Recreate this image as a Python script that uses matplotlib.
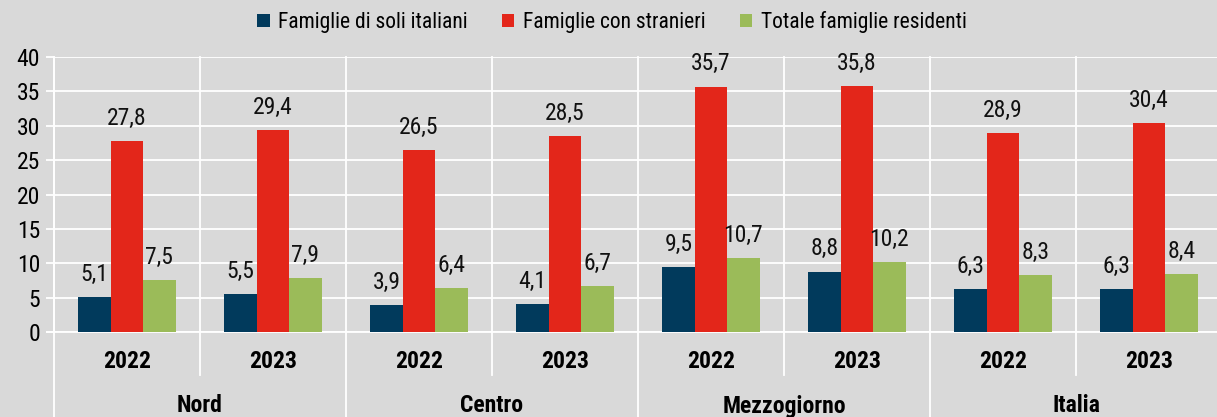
import matplotlib
matplotlib.use("Agg")
import matplotlib.pyplot as plt
from matplotlib.patches import Patch
from matplotlib import font_manager
import numpy as np

regions = ["Nord", "Centro", "Mezzogiorno", "Italia"]
years = ["2022", "2023"]
series_names = ["Famiglie di soli italiani", "Famiglie con stranieri", "Totale famiglie residenti"]
soli_italiani = [5.1, 5.5, 3.9, 4.1, 9.5, 8.8, 6.3, 6.3]
con_stranieri = [27.8, 29.4, 26.5, 28.5, 35.7, 35.8, 28.9, 30.4]
totale = [7.5, 7.9, 6.4, 6.7, 10.7, 10.2, 8.3, 8.4]
y_ticks = [0, 5, 10, 15, 20, 25, 30, 35, 40]

colors = ["#013A5C", "#E3261A", "#9BBB59"]
bg = "#D9D9D9"


def weight_num(w):
    if isinstance(w, (int, float)):
        return w
    return font_manager.weight_dict.get(w, 400)


fams = {}
for f in font_manager.fontManager.ttflist:
    if f.style != "normal":
        continue
    fams.setdefault(f.name, set()).add(weight_num(f.weight))

narrow = None
for cand in ["Liberation Sans Narrow", "Arial Narrow", "Roboto Condensed", "Archivo Narrow",
             "PT Sans Narrow", "Fira Sans Condensed", "IBM Plex Sans Condensed",
             "Encode Sans Condensed", "Asap Condensed"]:
    ws = fams.get(cand, set())
    if any(w <= 450 for w in ws) and any(w >= 650 for w in ws):
        narrow = cand
        break

if narrow is not None:
    plt.rcParams["font.family"] = [narrow, "DejaVu Sans"]
    FS = 17
    LFS = 15.5
else:
    plt.rcParams["font.family"] = ["Liberation Sans", "DejaVu Sans"]
    FS = 14
    LFS = 14

fig = plt.figure(figsize=(12.17, 4.17), dpi=100, facecolor=bg)
W, H = 1217, 417
x0, x1, ytop, ybot = 54, 54 + 1168, 57, 332
ax = fig.add_axes([x0 / W, 1 - ybot / H, (x1 - x0) / W, (ybot - ytop) / H])
ax.set_facecolor(bg)

n = len(soli_italiani)
centers = np.arange(n) + 0.5
bw = 0.222
data = [soli_italiani, con_stranieri, totale]
for i, (vals, c) in enumerate(zip(data, colors)):
    xs = centers + (i - 1) * bw
    ax.bar(xs, vals, width=bw, color=c, zorder=3)
    for x, v in zip(xs, vals):
        ax.annotate(f"{v:.1f}".replace(".", ","), (x, v), xytext=(0, 8),
                    textcoords="offset points", ha="center", va="bottom",
                    fontsize=FS, color="#111111")

ax.set_xlim(0, n)
ax.set_ylim(0, 40)
ax.set_yticks(y_ticks)
ax.set_yticklabels([str(t) for t in y_ticks], fontsize=FS)
ax.tick_params(axis="y", length=6, width=1.3, color="white", pad=4)
ax.set_xticks([])
ax.yaxis.grid(True, color="white", lw=1.3, zorder=1)
for s in ["top", "right", "bottom"]:
    ax.spines[s].set_visible(False)
ax.spines["left"].set_color("white")
ax.spines["left"].set_linewidth(1.3)
ax.spines["left"].set_zorder(2)

ax.plot([-7 / 146, n], [0, 0], color="white", lw=1.3, clip_on=False, zorder=2)

xt = ax.get_xaxis_transform()
yr_low = (ybot - 375) / (ybot - ytop)
fig_low = (ybot - H) / (ybot - ytop)
for k in range(n + 1):
    if k % 2 == 0:
        ax.plot([k, k], [1, fig_low], color="white", lw=1.3, transform=xt, clip_on=False, zorder=1)
    else:
        ax.plot([k, k], [1, yr_low], color="white", lw=1.3, transform=xt, clip_on=False, zorder=1)

yl_year = (ybot - 361) / (ybot - ytop)
yl_reg = (ybot - 406) / (ybot - ytop)
for k in range(n):
    ax.text(k + 0.5, yl_year, years[k % 2], transform=xt, ha="center", va="center",
            fontsize=FS, fontweight="bold")
for j, r in enumerate(regions):
    ax.text(2 * j + 1, yl_reg, r, transform=xt, ha="center", va="center",
            fontsize=FS, fontweight="bold")

handles = [Patch(facecolor=c, edgecolor="none") for c in colors]
fig.legend(handles, series_names, loc="center", bbox_to_anchor=(612 / W, 1 - 22 / H),
           ncol=3, frameon=False, fontsize=LFS, handlelength=0.56, handleheight=0.56,
           handletextpad=0.4, columnspacing=1.6)

fig.savefig("out.png", dpi=100, facecolor=bg)
